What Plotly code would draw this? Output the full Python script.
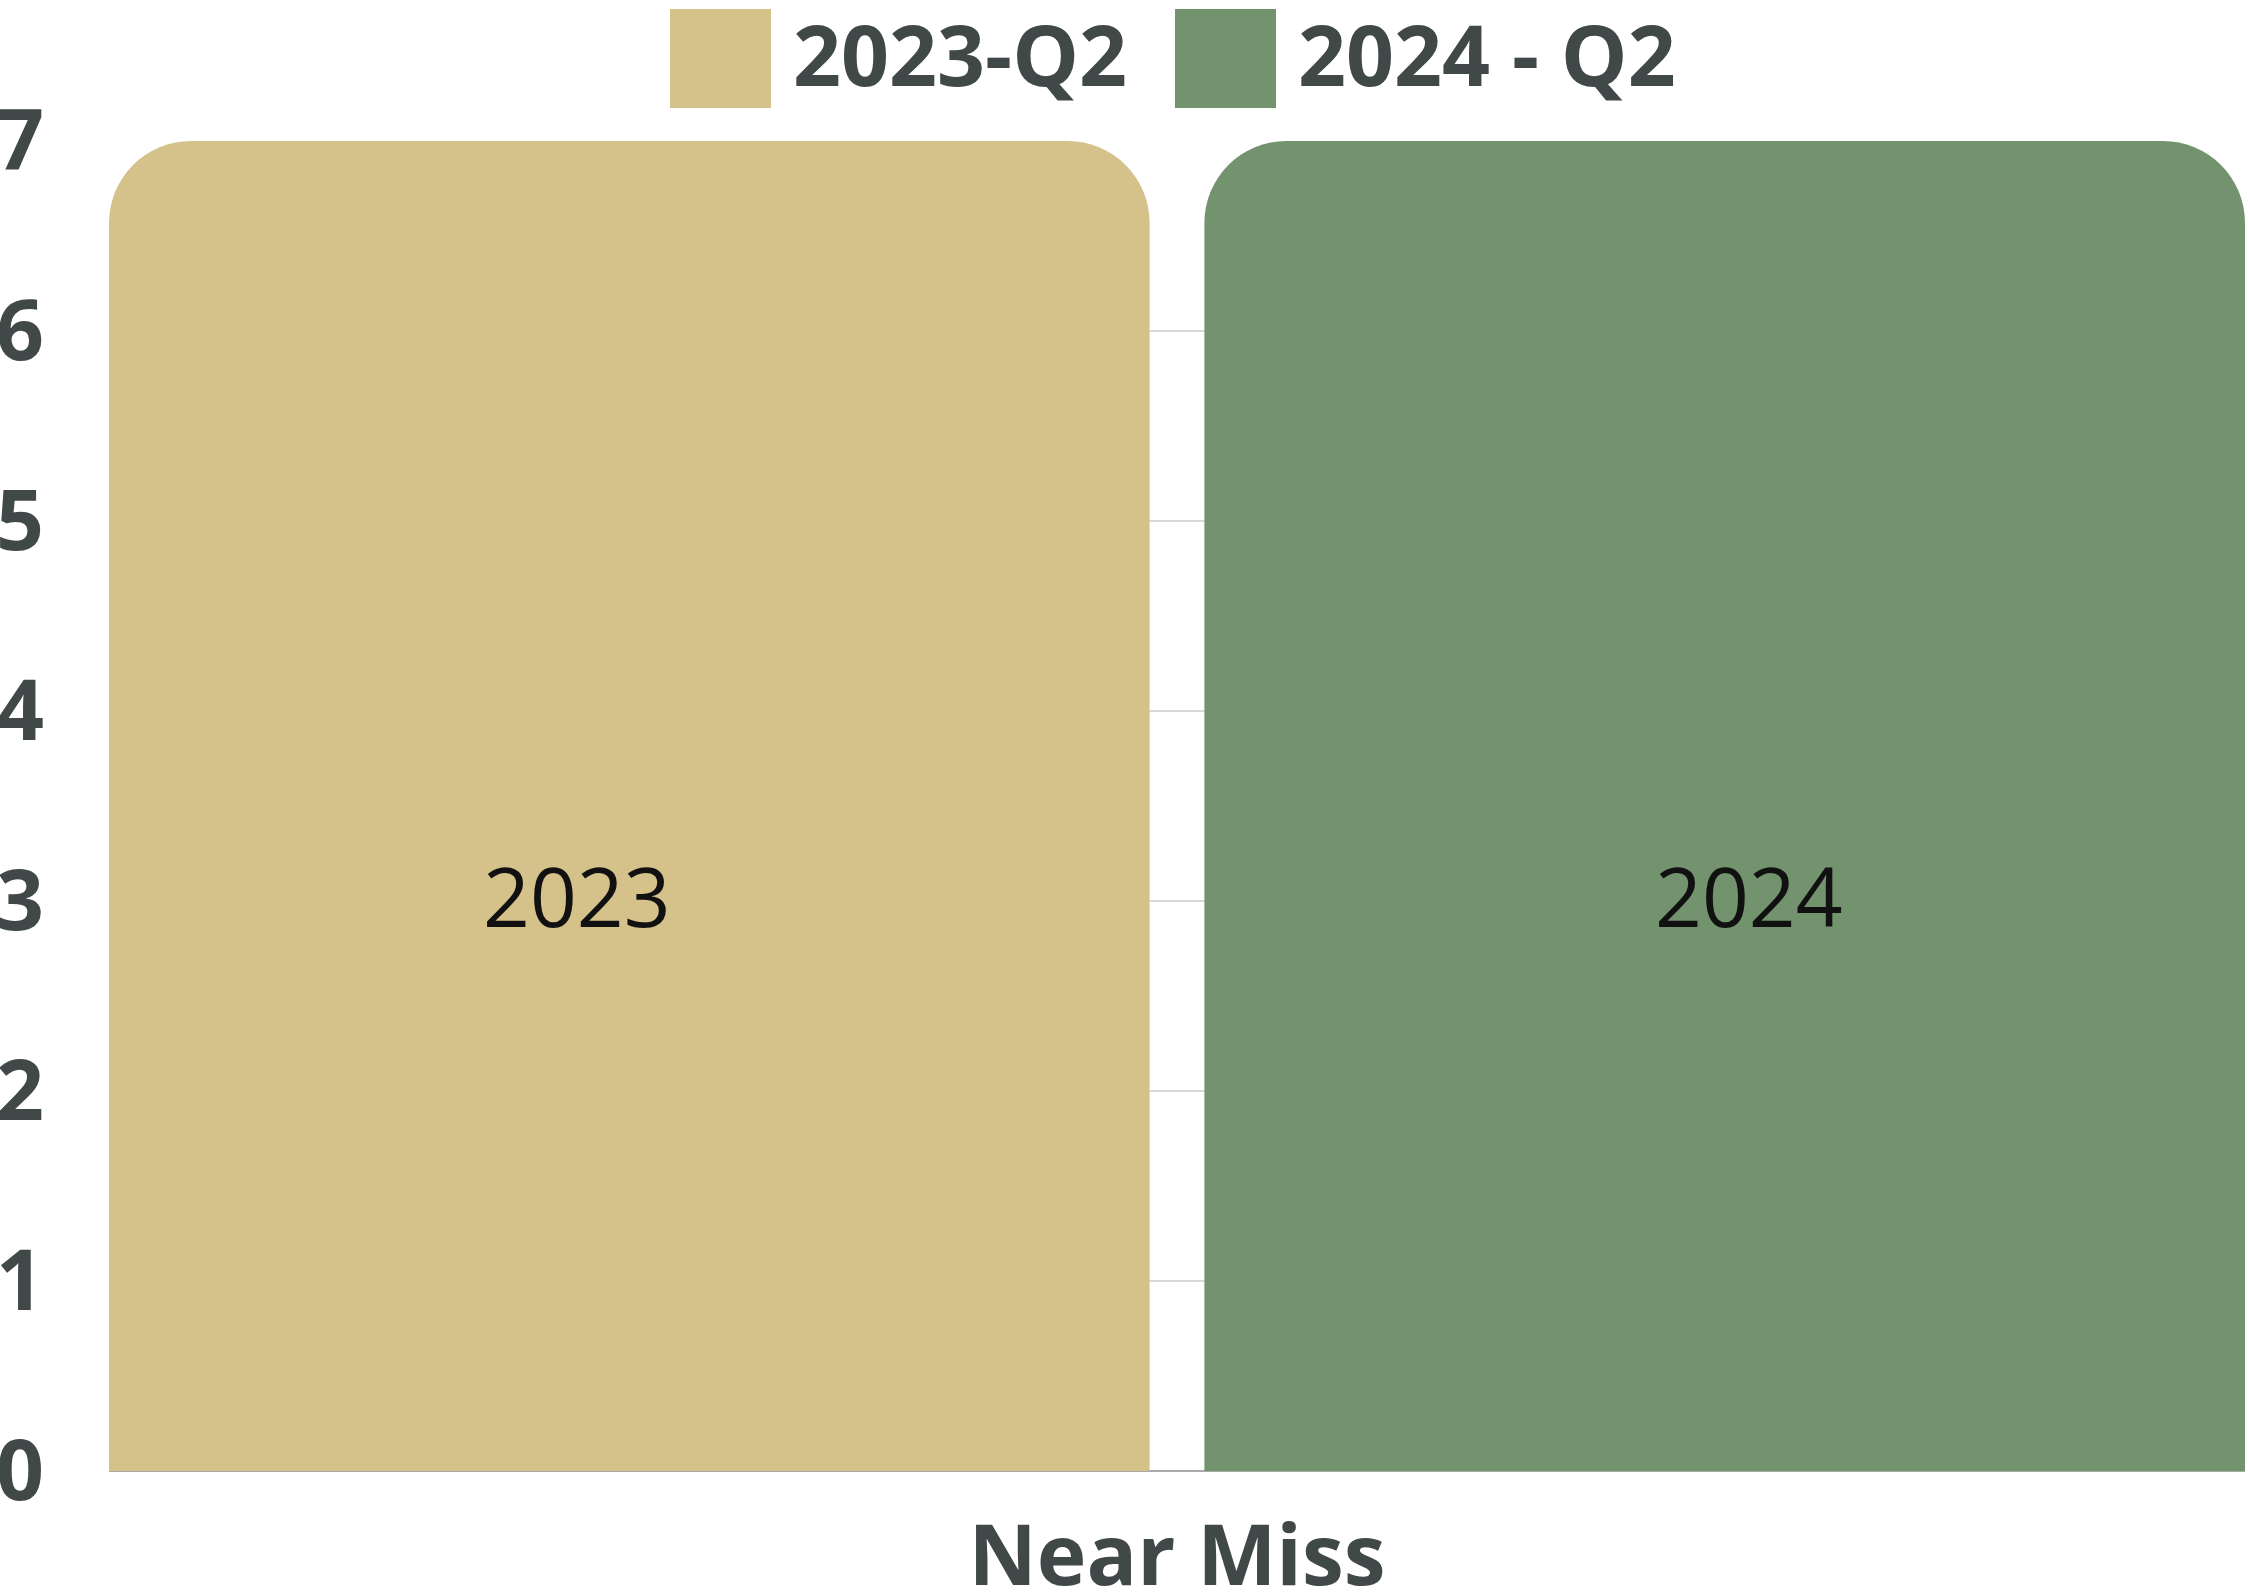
import plotly.graph_objects as go

categories = ["Near Miss"]
series_names = ["2023-Q2", "2024 - Q2"]
values_2023 = [7]
values_2024 = [7]
bar_labels = ["2023", "2024"]
y_ticks = [0, 1, 2, 3, 4, 5, 6, 7]

colors = ["#D5C28B", "#72936D"]
text_dark = "#404848"

W, H = 2250, 1592
L, R, T, B = 109, 5, 141, 121
pw, ph = W - L - R, H - T - B


def px_x(p):
    # window pixel -> paper fraction
    return (p - L) / pw


def px_y(p):
    return (H - B - p) / ph


fig = go.Figure()
for name, vals, col in zip(series_names, [values_2023, values_2024], colors):
    fig.add_trace(go.Bar(
        x=categories, y=vals, name=name, marker=dict(color=col, cornerradius=82, line_width=0),
        showlegend=False,
    ))

# labels inside bars
for i, (lab, shift) in enumerate(zip(bar_labels, [-52, 24])):
    fig.add_annotation(
        x=-0.25 + 0.5 * i, y=3.03, xref="x", yref="y", text=lab, showarrow=False,
        xshift=shift, font=dict(family="Open Sans", size=82, color="#111111"),
    )

# hand-drawn legend (big swatches)
legend_x = [670, 1175]
for name, col, x0 in zip(series_names, colors, legend_x):
    fig.add_shape(
        type="rect", xref="paper", yref="paper",
        x0=px_x(x0), x1=px_x(x0 + 101), y0=px_y(108), y1=px_y(9),
        fillcolor=col, line=dict(width=0),
    )
    fig.add_annotation(
        x=px_x(x0 + 121), y=px_y(54), xref="paper", yref="paper", text=name,
        showarrow=False, xanchor="left", yanchor="middle",
        font=dict(family="Open Sans", size=84, color=text_dark, weight="bold"),
    )

fig.update_layout(
    width=W, height=H,
    margin=dict(l=L, r=R, t=T, b=B),
    paper_bgcolor="white", plot_bgcolor="white",
    barmode="group", bargap=0, bargroupgap=0.05,
    font=dict(family="Open Sans", color=text_dark),
)
fig.update_xaxes(
    range=[-0.4875, 0.4875], showgrid=False, showline=False, ticks="",
    automargin=False, ticklabelstandoff=29,
    tickfont=dict(family="Open Sans", size=84, color=text_dark, weight="bold"),
)
fig.update_yaxes(
    range=[0, 7], tickvals=y_ticks, showgrid=True, gridcolor="#d9d9d9", gridwidth=2,
    zeroline=True, zerolinecolor="#aaaaaa", zerolinewidth=2, ticks="",
    automargin=False, ticklabelstandoff=64,
    tickfont=dict(family="Open Sans", size=84, color=text_dark, weight="bold"),
)

# drop the default 8px body margin so the figure fills the window
fig.write_html(
    "out.html",
    config={"displayModeBar": False},
    post_script="document.body.style.margin='0';",
)
